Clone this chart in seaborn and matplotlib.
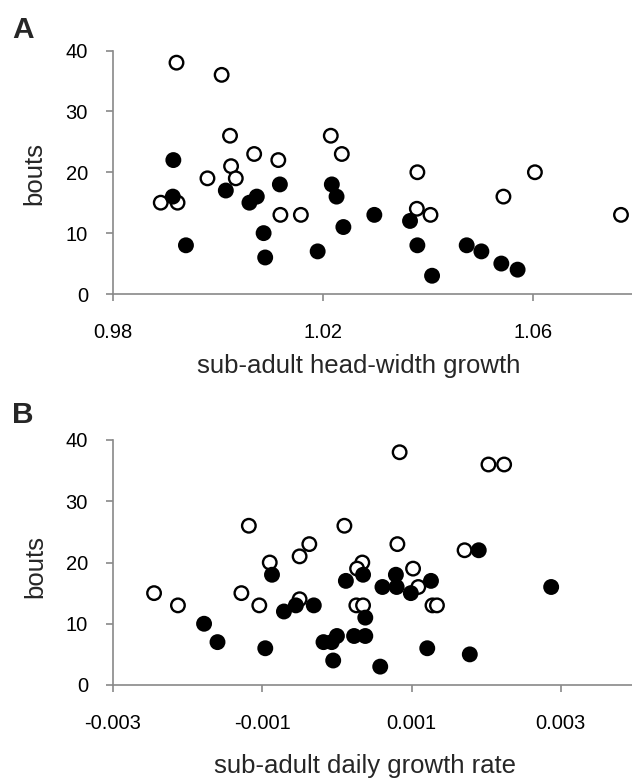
import matplotlib
matplotlib.use("Agg")
import matplotlib.pyplot as plt
import seaborn as sns
import pandas as pd

sns.set_theme(style="white")
plt.rcParams['font.family'] = ['Liberation Sans', 'DejaVu Sans']
plt.rcParams['axes.unicode_minus'] = False

# Panel A: sub-adult head-width growth vs bouts
a_open_x = [0.9921, 1.0007, 1.0023, 1.0215, 1.0236, 1.0069, 1.0115, 1.0025, 0.9980, 1.0034,
            0.9891, 0.9923, 1.0119, 1.0158, 1.0380, 1.0379, 1.0405, 1.0544, 1.0604, 1.0768]
a_open_y = [38, 36, 26, 26, 23, 23, 22, 21, 19, 19,
            15, 15, 13, 13, 20, 14, 13, 16, 20, 13]
a_fill_x = [0.9915, 0.9914, 0.9939, 1.0015, 1.0060, 1.0074, 1.0087, 1.0090, 1.0118, 1.0190,
            1.0217, 1.0226, 1.0239, 1.0298, 1.0366, 1.0380, 1.0408, 1.0474, 1.0502, 1.0540, 1.0571]
a_fill_y = [22, 16, 8, 17, 15, 16, 10, 6, 18, 7,
            18, 16, 11, 13, 12, 8, 3, 8, 7, 5, 4]

# Panel B: sub-adult daily growth rate vs bouts
b_open_x = [-0.00245, -0.00213, -0.00118, -0.00128, -0.00104, -0.00090, -0.00050, -0.00037,
            -0.00050, 0.00010, 0.00034, 0.00027, 0.00026, 0.00035, 0.00081, 0.00084,
            0.00102, 0.00109, 0.00128, 0.00134, 0.00171, 0.00203, 0.00224]
b_open_y = [15, 13, 26, 15, 13, 20, 21, 23,
            14, 26, 20, 19, 13, 13, 23, 38,
            19, 16, 13, 13, 22, 36, 36]
b_fill_x = [-0.00178, -0.00160, -0.00096, -0.00087, -0.00071, -0.00055, -0.00031, -0.00018,
            -0.00007, 0.00000, 0.00023, 0.00038, -0.00005, 0.00058, 0.00012, 0.00035,
            0.00038, 0.00061, 0.00079, 0.00080, 0.00099, 0.00126, 0.00121, 0.00190,
            0.00178, 0.00287]
b_fill_y = [10, 7, 6, 18, 12, 13, 13, 7,
            7, 8, 8, 8, 4, 3, 17, 18,
            11, 16, 18, 16, 15, 17, 6, 22,
            5, 16]

a_xticks = [0.98, 1.02, 1.06]
a_xticklabels = ['0.98', '1.02', '1.06']
b_xticks = [-0.003, -0.001, 0.001, 0.003]
b_xticklabels = ['-0.003', '-0.001', '0.001', '0.003']
yticks = [0, 10, 20, 30, 40]

GREY = '#898989'
W, H = 632, 779


def make_df(ox, oy, fx, fy):
    d1 = pd.DataFrame({'x': ox, 'y': oy, 'grp': 'open'})
    d2 = pd.DataFrame({'x': fx, 'y': fy, 'grp': 'filled'})
    return pd.concat([d1, d2], ignore_index=True)


def style_axes(ax, xlim, xticks, xticklabels):
    ax.set_xlim(*xlim)
    ax.set_ylim(0, 40)
    ax.set_xticks(xticks)
    ax.set_xticklabels(xticklabels)
    ax.set_yticks(yticks)
    for s in ['top', 'right']:
        ax.spines[s].set_visible(False)
    for s in ['left', 'bottom']:
        ax.spines[s].set_color(GREY)
        ax.spines[s].set_linewidth(1.2)
    ax.tick_params(axis='both', direction='out', length=5, width=1.2, color=GREY,
                   labelcolor='black', labelsize=14.5)
    ax.tick_params(axis='x', pad=16, bottom=True)
    ax.tick_params(axis='y', pad=13, left=True)
    ax.grid(False)


fig = plt.figure(figsize=(W / 100, H / 100), dpi=100)

# panel A
axA = fig.add_axes([113 / W, 1 - 294 / H, 519 / W, 243.5 / H])
dfA = make_df(a_open_x, a_open_y, a_fill_x, a_fill_y)
sns.scatterplot(data=dfA, x='x', y='y', hue='grp', palette={'open': 'white', 'filled': 'black'},
                edgecolor='black', linewidth=1.7, s=95, legend=False, ax=axA, clip_on=False)
style_axes(axA, (0.98, 1.0789), a_xticks, a_xticklabels)
axA.set_xlabel('sub-adult head-width growth', fontsize=18.5)
axA.set_ylabel('bouts', fontsize=18.5)
axA.xaxis.set_label_coords(0.474, -0.245)
axA.yaxis.set_label_coords(-0.128, 0.493)

# panel B
axB = fig.add_axes([113 / W, 1 - 685 / H, 519 / W, 245 / H])
dfB = make_df(b_open_x, b_open_y, b_fill_x, b_fill_y)
sns.scatterplot(data=dfB, x='x', y='y', hue='grp', palette={'open': 'white', 'filled': 'black'},
                edgecolor='black', linewidth=1.7, s=95, legend=False, ax=axB, clip_on=False)
style_axes(axB, (-0.003, 0.003953), b_xticks, b_xticklabels)
axB.set_xlabel('sub-adult daily growth rate', fontsize=18.5)
axB.set_ylabel('bouts', fontsize=18.5)
axB.xaxis.set_label_coords(0.486, -0.28)
axB.yaxis.set_label_coords(-0.126, 0.482)

fig.text(12 / W, 1 - 38 / H, 'A', fontsize=21.5, fontweight='bold', ha='left', va='baseline')
fig.text(12 / W, 1 - 423 / H, 'B', fontsize=21.5, fontweight='bold', ha='left', va='baseline')

fig.savefig('out.png', dpi=100)
plt.close(fig)
